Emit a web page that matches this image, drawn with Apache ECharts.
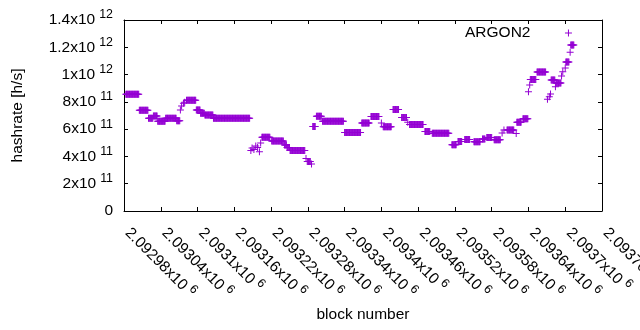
<!DOCTYPE html>
<html><head><meta charset="utf-8">
<script src="https://cdn.jsdelivr.net/npm/echarts@6/dist/echarts.min.js"></script>
<style>html,body{margin:0;padding:0;background:#fff}#c{width:640px;height:330px}</style>
</head><body><div id="c"></div>
<script>
// ---- data (runs of blocks with the same hashrate) ----
const seriesName = 'ARGON2';
const runStart = [2092983,2093005,2093020,2093028,2093035,2093048,2093066,2093072,2093074,2093077,2093079,2093082,2093098,2093105,2093112,2093126,
  2093187,2093189,2093192,2093195,2093198,2093201,2093203,2093205,2093221,2093242,2093246,2093251,2093277,2093279,2093286,2093288,2093294,2093304,
  2093340,2093368,2093383,2093400,2093403,2093419,2093433,2093443,2093446,2093471,2093483,2093515,2093525,2093536,2093551,2093565,2093572,2093584,
  2093597,2093600,2093605,2093620,2093621,2093631,2093640,2093642,2093643,2093654,2093671,2093674,2093676,2093677,2093684,2093685,2093694,2093696,
  2093700,2093701,2093708,2093709];
const runEnd = [2093004,2093019,2093027,2093034,2093047,2093065,2093071,2093072,2093074,2093077,2093079,2093097,2093104,2093111,2093125,2093185,
  2093187,2093189,2093192,2093195,2093198,2093201,2093203,2093218,2093240,2093245,2093250,2093275,2093277,2093284,2093286,2093292,2093302,2093338,
  2093366,2093380,2093396,2093400,2093416,2093428,2093441,2093443,2093468,2093479,2093510,2093522,2093531,2093544,2093561,2093569,2093580,2093594,
  2093597,2093600,2093616,2093620,2093628,2093639,2093640,2093642,2093652,2093668,2093671,2093674,2093676,2093683,2093684,2093693,2093694,2093696,
  2093700,2093706,2093708,2093714];
const runValue = [8.56e11,7.38e11,6.80e11,6.96e11,6.58e11,6.80e11,6.62e11,7.40e11,7.70e11,7.90e11,7.97e11,8.12e11,7.40e11,7.16e11,7.04e11,6.80e11,
  4.43e11,4.62e11,4.51e11,4.77e11,4.66e11,4.35e11,4.99e11,5.40e11,5.13e11,4.84e11,4.65e11,4.44e11,3.85e11,3.63e11,3.45e11,6.20e11,6.95e11,6.58e11,
  5.75e11,6.45e11,6.93e11,6.45e11,6.18e11,7.44e11,6.85e11,6.50e11,6.34e11,5.83e11,5.70e11,4.86e11,5.10e11,5.24e11,5.08e11,5.28e11,5.39e11,5.22e11,
  5.72e11,5.94e11,5.94e11,5.68e11,6.50e11,6.76e11,8.75e11,9.24e11,9.64e11,10.19e11,8.19e11,8.38e11,8.58e11,9.60e11,9.11e11,9.38e11,9.90e11,10.21e11,
  10.48e11,10.92e11,11.63e11,12.17e11];
const xTickMantissa = ['2.09298','2.09304','2.0931','2.09316','2.09322','2.09328','2.09334','2.0934','2.09346','2.09352','2.09358','2.09364','2.0937','2.09376'];
const xTickExponent = ['6','6','6','6','6','6','6','6','6','6','6','6','6','6'];
const yTickMantissa = ['0','2','4','6','8','1','1.2','1.4'];
const yTickExponent = ['','11','11','11','11','12','12','12'];
const xMin = 2092980, xMax = 2093760, xStep = 60;
const yMin = 0, yMax = 1.4e12, yStep = 2e11;

// ---- build ----
const points = [];
for (let i = 0; i < runStart.length; i++) {
  for (let b = runStart[i]; b <= runEnd[i]; b++) points.push([b, runValue[i]]);
}
const FONT = '"Liberation Sans", Arial, sans-serif';
const PLUS = 'path://M3,0H4V3H7V4H4V7H3V4H0V3H3Z';
const COLOR = '#9400d3';
const rich = {
  m: {fontFamily: FONT, fontSize: 15.5, color: '#000'},
  s: {fontFamily: FONT, fontSize: 12.4, color: '#000', padding: [0, 0, 10, 4]}
};
function lab(m, e) { return e ? '{m|' + m + 'x10}{s|' + e + '}' : '{m|' + m + '}'; }
const chart = echarts.init(document.getElementById('c'), null, {renderer: 'canvas'});
const axisCommon = {
  axisLine: {show: true, onZero: false, lineStyle: {color: '#000', width: 1}},
  axisTick: {show: true, inside: true, length: 4, lineStyle: {color: '#000', width: 1}},
  splitLine: {show: false}
};
chart.setOption({
  animation: false,
  backgroundColor: '#fff',
  grid: {left: 124, right: 38, top: 20, bottom: 119, containLabel: false, outerBoundsMode: 'none'},
  legend: {
    data: [{name: seriesName, icon: PLUS}],
    left: 460, top: 20, align: 'right',
    itemWidth: 66, itemHeight: 7, symbolKeepAspect: true,
    textStyle: {fontFamily: FONT, fontSize: 15.5, color: '#000'},
    selectedMode: false
  },
  xAxis: [
    Object.assign({
      type: 'value', min: xMin, max: xMax, interval: xStep, position: 'bottom',
      name: 'block number', nameLocation: 'middle', nameGap: 96, nameMoveOverlap: false,
      nameTextStyle: {fontFamily: FONT, fontSize: 15.5, color: '#000'},
      axisLabel: {
        rotate: -45, margin: 16, padding: [0, 0, 0, 5], showMinLabel: true, showMaxLabel: true, hideOverlap: false,
        fontFamily: FONT, fontSize: 15.5, color: '#000',
        formatter: function (v) { const i = Math.round((v - xMin) / xStep); return lab(xTickMantissa[i], xTickExponent[i]); },
        rich: rich
      }
    }, axisCommon),
    Object.assign({
      type: 'value', min: xMin, max: xMax, interval: xStep, position: 'top', axisLabel: {show: false}
    }, axisCommon)
  ],
  yAxis: [
    Object.assign({
      type: 'value', min: yMin, max: yMax, interval: yStep, position: 'left',
      name: 'hashrate [h/s]', nameLocation: 'middle', nameGap: 98, nameRotate: 90, nameMoveOverlap: false,
      nameTextStyle: {fontFamily: FONT, fontSize: 15.5, color: '#000'},
      axisLabel: {
        margin: 11, showMinLabel: true, showMaxLabel: true,
        fontFamily: FONT, fontSize: 15.5, color: '#000',
        formatter: function (v) { const i = Math.round((v - yMin) / yStep); return lab(yTickMantissa[i], yTickExponent[i]); },
        rich: rich
      }
    }, axisCommon),
    Object.assign({
      type: 'value', min: yMin, max: yMax, interval: yStep, position: 'right', axisLabel: {show: false}
    }, axisCommon)
  ],
  series: [{
    name: seriesName, type: 'scatter', xAxisIndex: 0, yAxisIndex: 0,
    data: points, symbol: PLUS, symbolSize: 7, silent: true, large: false,
    itemStyle: {color: COLOR, opacity: 1}, emphasis: {disabled: true}
  }]
});
</script>
</body></html>
